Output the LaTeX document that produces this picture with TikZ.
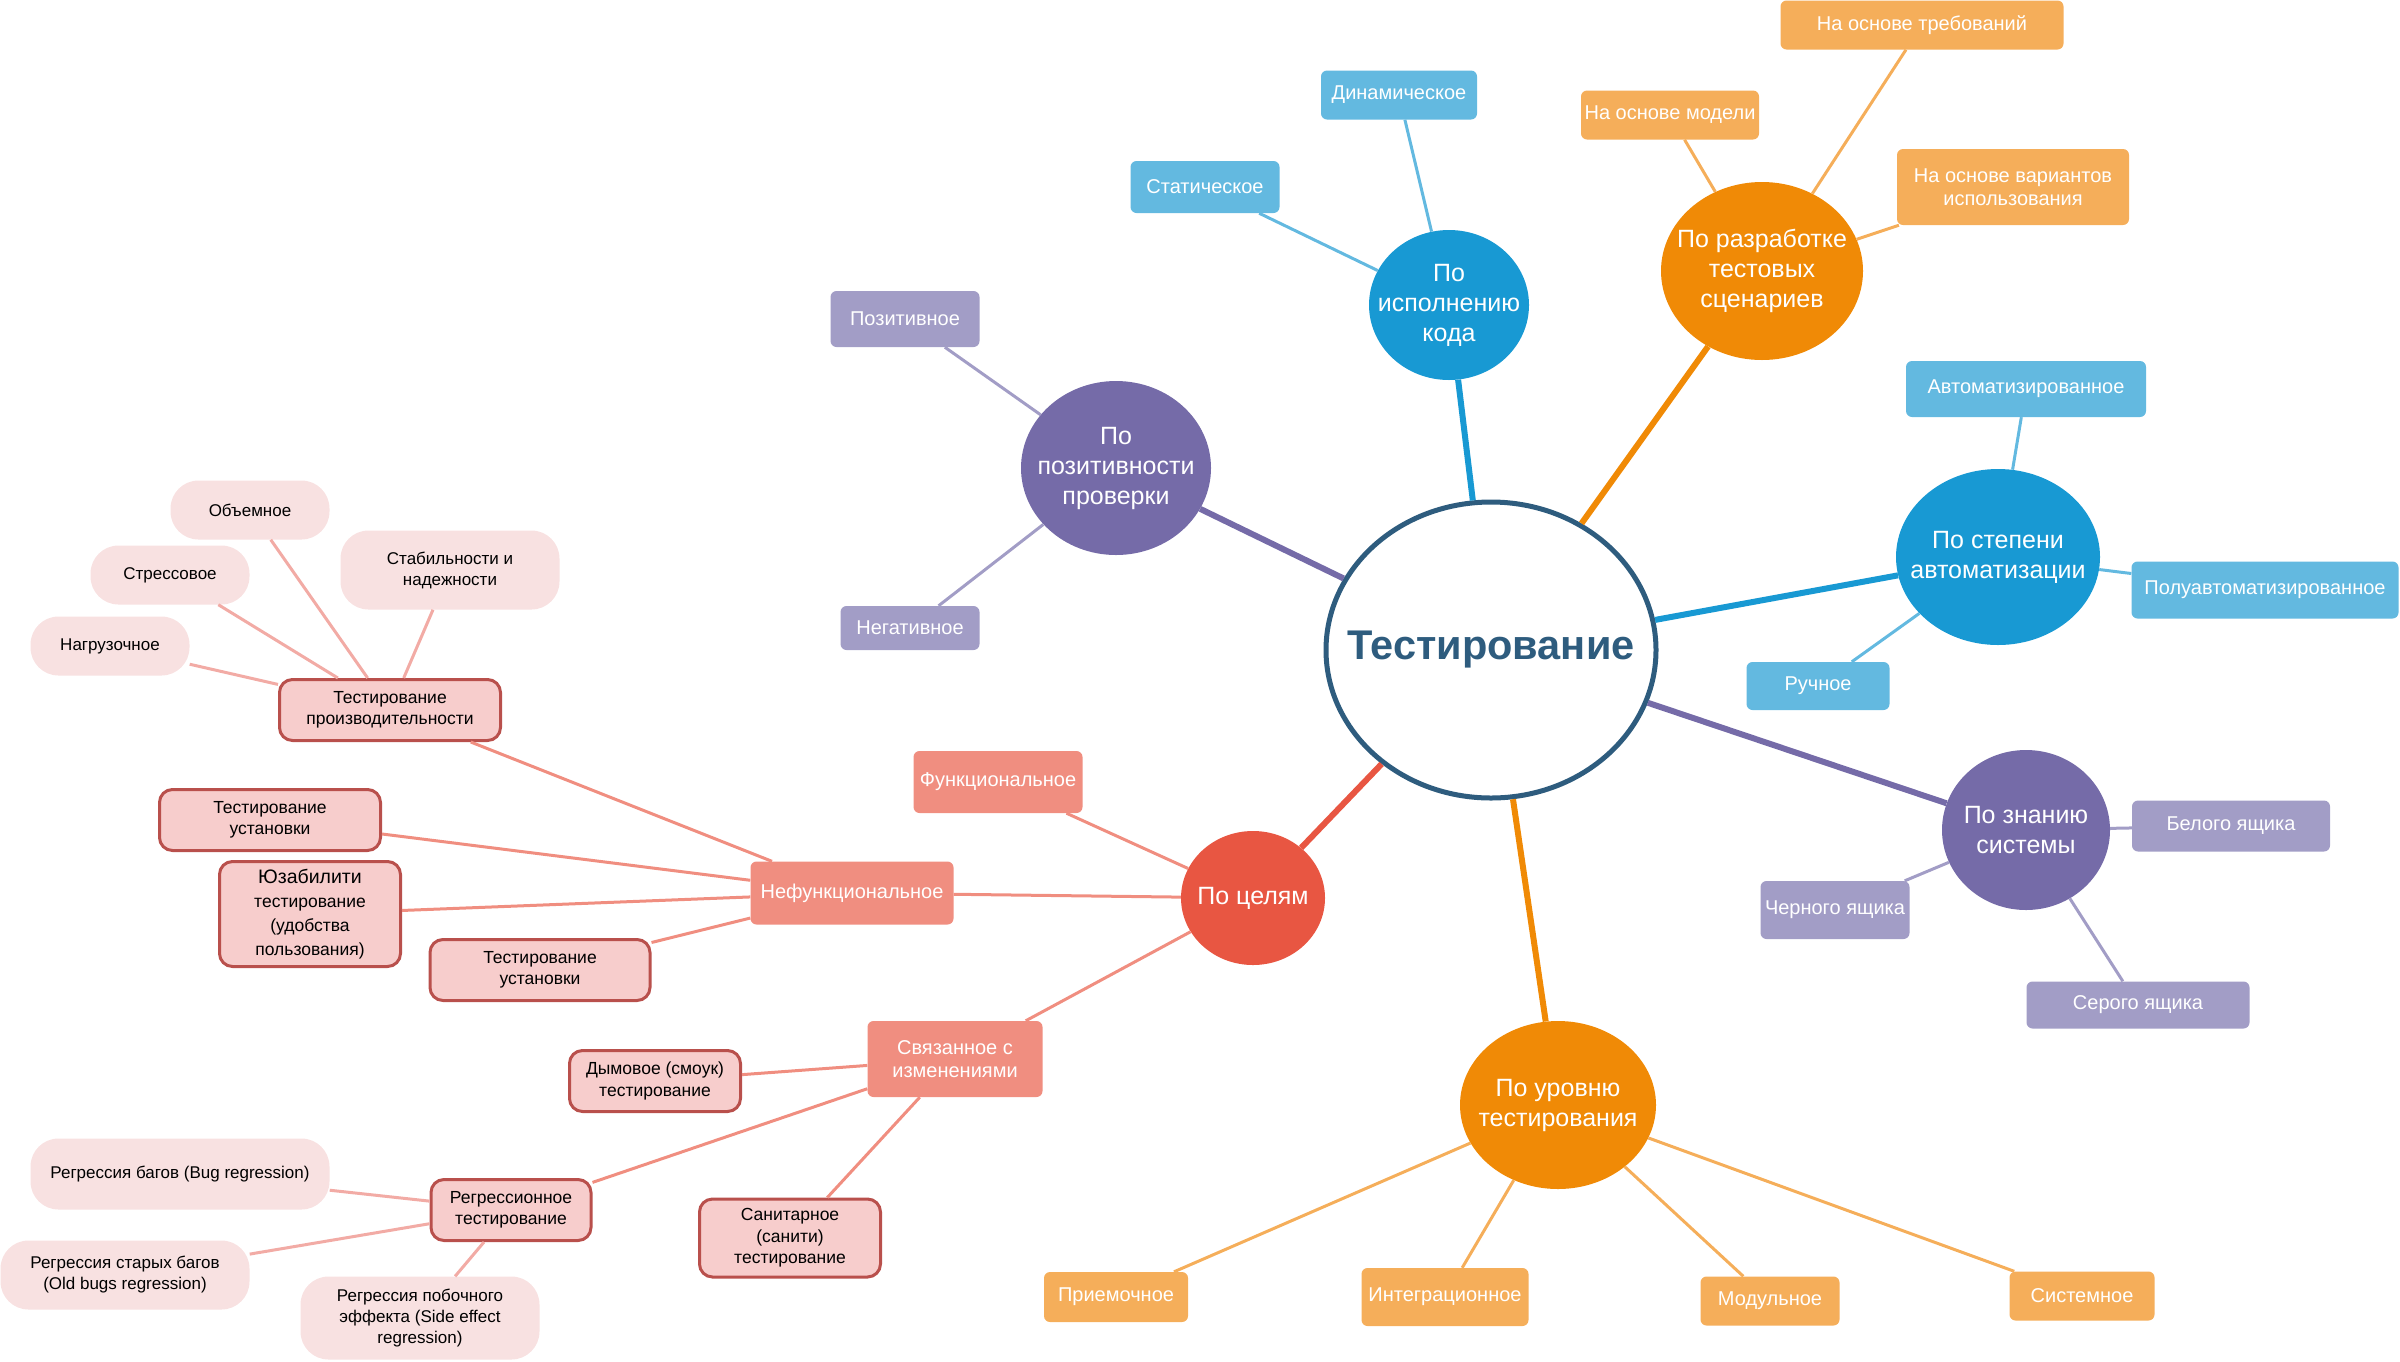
\documentclass[tikz,border=0pt]{standalone}
\usepackage{fontspec}
\setmainfont{Liberation Sans}
\usetikzlibrary{shapes.geometric}

\definecolor{rootblue}{HTML}{2E5C7E}
\definecolor{bluemain}{HTML}{1899D3}
\definecolor{bluelight}{HTML}{63B9E0}
\definecolor{orangemain}{HTML}{F08A06}
\definecolor{orangelight}{HTML}{F5AE5A}
\definecolor{purplemain}{HTML}{756BA8}
\definecolor{purplelight}{HTML}{A29DC6}
\definecolor{redmain}{HTML}{E85642}
\definecolor{salmon}{HTML}{F08E80}
\definecolor{pinkfill}{HTML}{F7CDCC}
\definecolor{pinkborder}{HTML}{B9504C}
\definecolor{palepink}{HTML}{F8E1E1}
\definecolor{paleline}{HTML}{F2ABA5}

\tikzset{
  wh/.style 2 args={minimum width=#1pt,minimum height=#2pt},
  topic/.style={ellipse,fill=#1,text=white,inner sep=-70pt,align=center,
    font=\fontsize{25}{30}\selectfont},
  leaf/.style={rectangle,rounded corners=6pt,fill=#1,text=white,inner sep=2pt,
    align=center,font=\fontsize{20}{23}\selectfont},
  pinkbox/.style={rectangle,rounded corners=13pt,fill=pinkfill,draw=pinkborder,
    line width=3pt,inner sep=2pt,align=center,font=\fontsize{17.5}{21.5}\selectfont},
  pill/.style={rectangle,rounded corners=28pt,fill=palepink,inner sep=2pt,
    align=center,font=\fontsize{17}{21}\selectfont}
}

\begin{document}
\begin{tikzpicture}[x=1pt,y=-1pt]
  \useasboundingbox (0,0) rectangle (2400,1361);

  % root
  \node[ellipse,draw=rootblue,line width=5pt,fill=white,inner sep=-80pt,wh={330}{296},
    text=rootblue,font=\fontsize{41.5}{48}\selectfont\bfseries] (root) at (1491,650) {Тестирование};

  % first level
  \node[topic=bluemain,wh={160}{150}]   (exec)   at (1449,305)  {По\\исполнению\\кода};
  \node[topic=orangemain,wh={202}{178}] (design) at (1762,271)  {По разработке\\тестовых\\сценариев};
  \node[topic=purplemain,wh={190}{174}] (pos)    at (1116,468)  {По\\позитивности\\проверки};
  \node[topic=bluemain,wh={204}{176}]   (auto)   at (1998,557)  {По степени\\автоматизации};
  \node[topic=purplemain,wh={168}{160}] (know)   at (2026,830)  {По знанию\\системы};
  \node[topic=orangemain,wh={196}{168}] (level)  at (1558,1105) {По уровню\\тестирования};
  \node[topic=redmain,wh={144}{134}]    (goal)   at (1253,898)  {По целям};

  % second level
  \node[leaf=bluelight,wh={149}{52}]   (stat)     at (1205,187)  {Статическое};
  \node[leaf=bluelight,wh={156}{49}]   (dyn)      at (1399,95)   {Динамическое};
  \node[leaf=orangelight,wh={283}{49}] (req)      at (1922,25)   {На основе требований};
  \node[leaf=orangelight,wh={178}{49}] (model)    at (1670,115)  {На основе модели};
  \node[leaf=orangelight,wh={232}{76}] (usecase)  at (2013,187)  {На основе вариантов\\использования};
  \node[leaf=bluelight,wh={240}{56}]   (autom)    at (2026,389)  {Автоматизированное};
  \node[leaf=bluelight,wh={267}{57}]   (semi)     at (2265,590)  {Полуавтоматизированное};
  \node[leaf=bluelight,wh={143}{48}]   (manual)   at (1818,686)  {Ручное};
  \node[leaf=purplelight,wh={198}{51}] (white)    at (2231,826)  {Белого ящика};
  \node[leaf=purplelight,wh={149}{58}] (black)    at (1835,910)  {Черного ящика};
  \node[leaf=purplelight,wh={223}{47}] (grey)     at (2138,1005) {Серого ящика};
  \node[leaf=orangelight,wh={144}{50}] (accept)   at (1116,1297) {Приемочное};
  \node[leaf=orangelight,wh={167}{58}] (integr)   at (1445,1297) {Интеграционное};
  \node[leaf=orangelight,wh={139}{49}] (unit)     at (1770,1301) {Модульное};
  \node[leaf=orangelight,wh={145}{49}] (system)   at (2082,1296) {Системное};
  \node[leaf=salmon,wh={169}{62}]      (func)     at (998,782)   {Функциональное};
  \node[leaf=salmon,wh={203}{63}]      (nonfunc)  at (852,893)   {Нефункциональное};
  \node[leaf=salmon,wh={175}{76}]      (change)   at (955,1059)  {Связанное с\\изменениями};
  \node[leaf=purplelight,wh={149}{56}] (positive) at (905,319)   {Позитивное};
  \node[leaf=purplelight,wh={139}{44}] (negative) at (910,628)   {Негативное};

  % third level
  \node[pinkbox,wh={221}{61}]  (perf)   at (390,710)  {Тестирование\\производительности};
  \node[pinkbox,wh={221}{61}]  (inst1)  at (270,820)  {Тестирование\\установки};
  \node[pinkbox,wh={181}{105},font=\fontsize{17.5}{24}\selectfont]
    (usab) at (310,914) {{\fontsize{19.5}{24}\selectfont Юзабилити}\\тестирование\\(удобства\\пользования)};
  \node[pinkbox,wh={220}{61}]  (inst2)  at (540,970)  {Тестирование\\установки};
  \node[pinkbox,wh={171}{61}]  (smoke)  at (655,1081) {Дымовое (смоук)\\тестирование};
  \node[pinkbox,wh={181}{78}]  (sanity) at (790,1238) {Санитарное\\(санити)\\тестирование};
  \node[pinkbox,wh={160}{61}]  (regr)   at (511,1210) {Регрессионное\\тестирование};

  \node[pill,wh={159}{59}] (vol)     at (250,510)  {Объемное};
  \node[pill,wh={159}{59}] (stress)  at (170,575)  {Стрессовое};
  \node[pill,wh={159}{59}] (load)    at (110,646)  {Нагрузочное};
  \node[pill,wh={219}{79}] (stab)    at (450,570)  {Стабильности и\\надежности};
  \node[pill,wh={299}{71}] (bugreg)  at (180,1174) {Регрессия багов (Bug regression)};
  \node[pill,wh={249}{69}] (oldreg)  at (125,1275) {Регрессия старых багов\\(Old bugs regression)};
  \node[pill,wh={239}{83}] (sidereg) at (420,1318) {Регрессия побочного\\эффекта (Side effect\\regression)};

  % connectors
  \begin{scope}[every edge/.style={draw,line width=6pt}]
    \path (root) edge[bluemain]   (exec);
    \path (root) edge[orangemain] (design);
    \path (root) edge[purplemain] (pos);
    \path (root) edge[bluemain]   (auto);
    \path (root) edge[purplemain] (know);
    \path (root) edge[orangemain] (level);
    \path (root) edge[redmain]    (goal);
  \end{scope}

  \begin{scope}[every edge/.style={draw,line width=3pt}]
    \path (exec)   edge[bluelight]   (stat);
    \path (exec)   edge[bluelight]   (dyn);
    \path (design) edge[orangelight] (req);
    \path (design) edge[orangelight] (model);
    \path (design) edge[orangelight] (usecase);
    \path (auto)   edge[bluelight]   (autom);
    \path (auto)   edge[bluelight]   (semi);
    \path (auto)   edge[bluelight]   (manual);
    \path (know)   edge[purplelight] (white);
    \path (know)   edge[purplelight] (black);
    \path (know)   edge[purplelight] (grey);
    \path (level)  edge[orangelight] (accept);
    \path (level)  edge[orangelight] (integr);
    \path (level)  edge[orangelight] (unit);
    \path (level)  edge[orangelight] (system);
    \path (goal)   edge[salmon]      (func);
    \path (goal)   edge[salmon]      (nonfunc);
    \path (goal)   edge[salmon]      (change);
    \path (pos)    edge[purplelight] (positive);
    \path (pos)    edge[purplelight] (negative);

    \path (nonfunc) edge[salmon] (perf);
    \path (nonfunc) edge[salmon] (inst1);
    \path (nonfunc) edge[salmon] (usab);
    \path (nonfunc) edge[salmon] (inst2);
    \path (change)  edge[salmon] (smoke);
    \path (change)  edge[salmon] (regr);
    \path (change)  edge[salmon] (sanity);

    \path (perf) edge[paleline] (vol);
    \path (perf) edge[paleline] (stress);
    \path (perf) edge[paleline] (load);
    \path (perf) edge[paleline] (stab);
    \path (regr) edge[paleline] (bugreg);
    \path (regr) edge[paleline] (oldreg);
    \path (regr) edge[paleline] (sidereg);
  \end{scope}

\end{tikzpicture}
\end{document}
